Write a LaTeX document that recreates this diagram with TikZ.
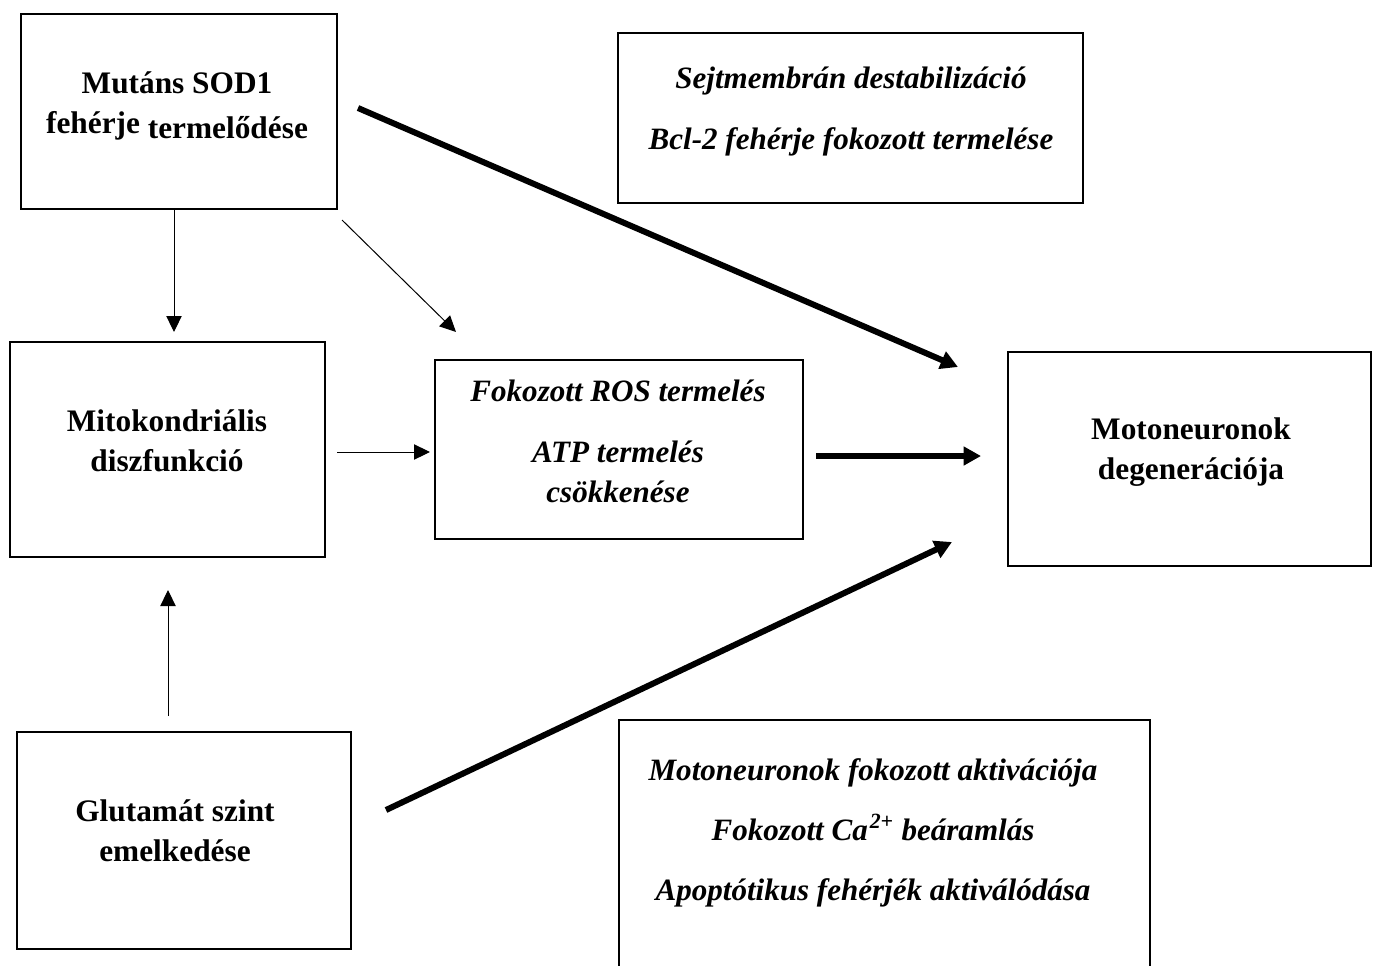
\documentclass[tikz,border=0pt]{standalone}
\usepackage{fontspec}
\setmainfont{Liberation Serif}
\usetikzlibrary{arrows.meta}

\tikzset{
  box/.style={draw, line width=1.5pt, rectangle, inner sep=0pt},
  txt/.style={align=center, font=\fontsize{23.5}{30}\selectfont\bfseries},
  itxt/.style={align=center, font=\fontsize{23.3}{30}\selectfont\bfseries\itshape},
  thinarr/.style={line width=0.75pt, -{Triangle[length=12pt,width=11.5pt]}},
  thickarr/.style={line width=4.5pt, -{Triangle[length=13pt,width=13.5pt]}},
}

\begin{document}
\begin{tikzpicture}[x=0.75pt, y=-0.75pt]
  \useasboundingbox (0,0) rectangle (1374,965);

  %% dobozok
  \node[box, minimum width=316*0.75pt, minimum height=195*0.75pt] (sod)  at (179,111.5) {};
  \node[box, minimum width=465*0.75pt, minimum height=170*0.75pt] (sejt) at (850.5,118) {};
  \node[box, minimum width=315*0.75pt, minimum height=215*0.75pt] (mito) at (167.5,449.5) {};
  \node[box, minimum width=368*0.75pt, minimum height=179*0.75pt] (ros)  at (619,449.5) {};
  \node[box, minimum width=363*0.75pt, minimum height=214*0.75pt] (mot)  at (1189.5,459) {};
  \node[box, minimum width=334*0.75pt, minimum height=217*0.75pt] (glu)  at (184,840.5) {};
  \node[box, minimum width=531*0.75pt, minimum height=260*0.75pt] (apo)  at (884.5,850) {};

  %% feliratok
  \node[txt]  (sod-t)  at (177,106) {Mutáns SOD1\\[3.75pt]\raisebox{3.75pt}{fehérje} termelődése};
  \node[itxt] (sejt-t) at (851,112) {Sejtmembrán destabilizáció\\[15.75pt]Bcl-2 fehérje fokozott termelése};
  \node[txt]  (mito-t) at (167,441) {Mitokondriális\\diszfunkció};
  \node[itxt] (ros-t)  at (618,441) {Fokozott ROS termelés\\[15.75pt]ATP termelés\\csökkenése};
  \node[txt]  (mot-t)  at (1191,452) {Motoneuronok\\degenerációja};
  \node[txt]  (glu-t)  at (175,831) {Glutamát szint\\emelkedése};
  \node[itxt] (apo-t)  at (873,833) {Motoneuronok fokozott aktivációja\\[15pt]Fokozott Ca\kern1.5pt\textsuperscript{2+} beáramlás\\[15pt]Apoptótikus fehérjék aktiválódása};

  %% nyilak
  \draw[thinarr]  ([shift={(-5,0)}]sod.south) -- ([shift={(6.5,-9)}]mito.north);
  \draw[thinarr]  ([shift={(4,10)}]sod.south east) -- ([shift={(22,-27)}]ros.north west);
  \draw[thickarr] ([shift={(20,-3.5)}]sod.east) -- ([shift={(-49,16)}]mot.north west);
  \draw[thinarr]  ([shift={(11,2.5)}]mito.east) -- ([shift={(-4,2.5)}]ros.west);
  \draw[thickarr] ([shift={(12,6.5)}]ros.east) -- ([shift={(-26,-3)}]mot.west);
  \draw[thickarr] ([shift={(34,-30.5)}]glu.east) -- ([shift={(-55,-25)}]mot.south west);
  \draw[thinarr]  ([shift={(-16,-15)}]glu.north) -- ([shift={(0.5,32)}]mito.south);

\end{tikzpicture}
\end{document}
